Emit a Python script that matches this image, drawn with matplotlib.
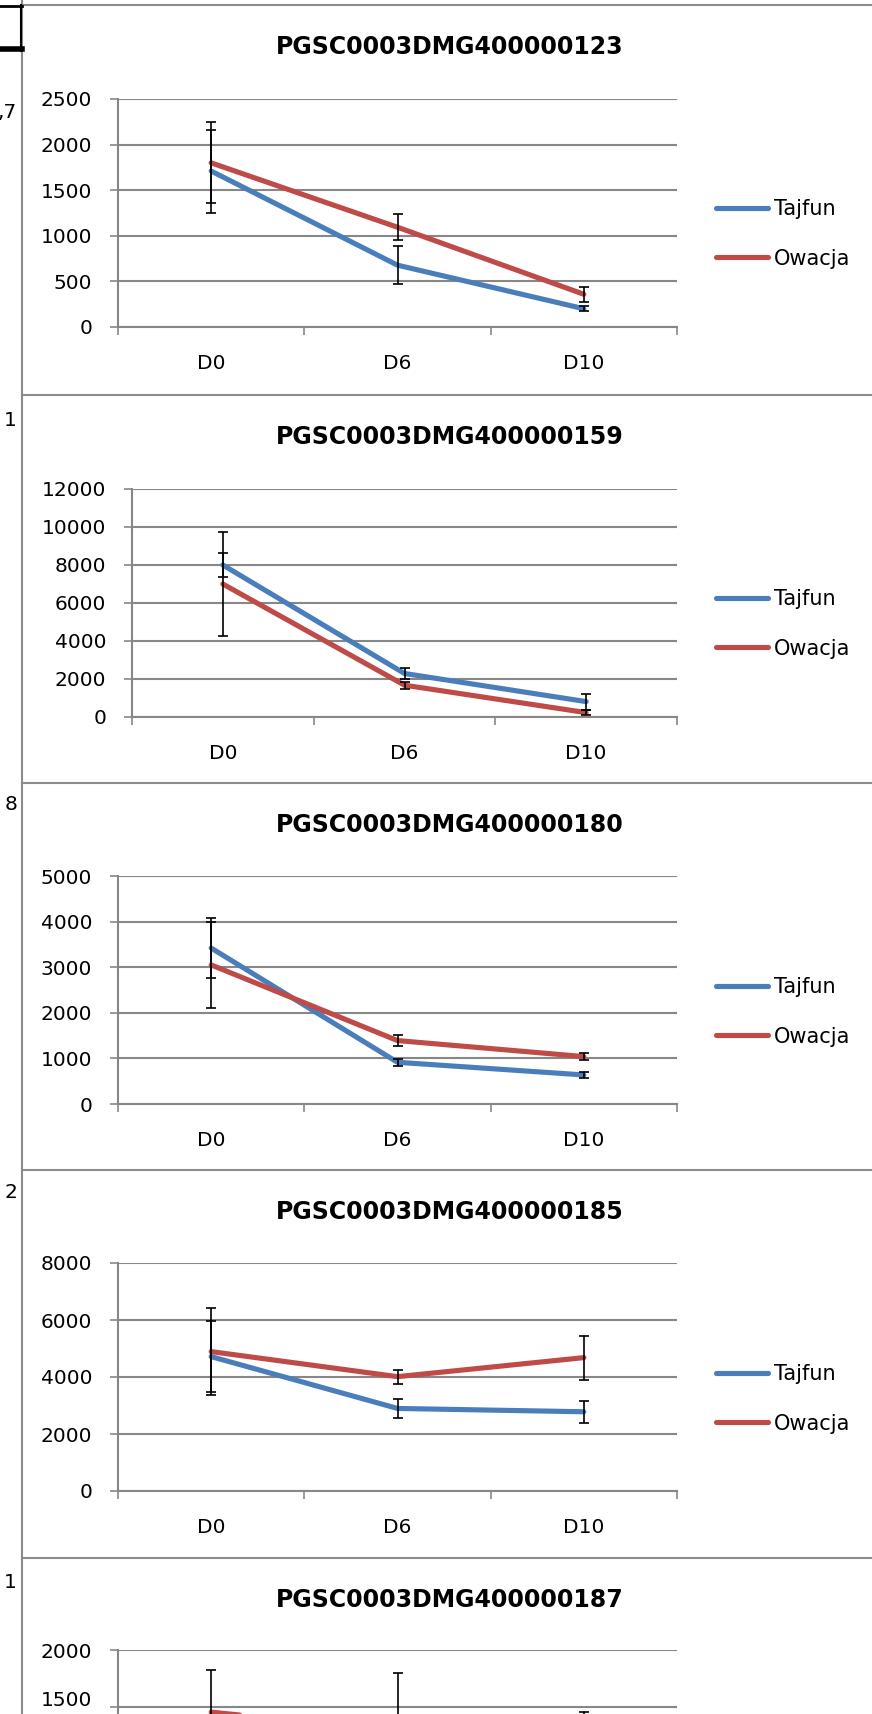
import matplotlib
matplotlib.use('Agg')
import matplotlib.pyplot as plt
from matplotlib.lines import Line2D

plt.rcParams['font.family'] = ['DejaVu Sans']

# ---------------- data ----------------
categories = ['D0', 'D6', 'D10']
series_names = ['Tajfun', 'Owacja']

titles = ['PGSC0003DMG400000123', 'PGSC0003DMG400000159', 'PGSC0003DMG400000180',
          'PGSC0003DMG400000185', 'PGSC0003DMG400000187']

tajfun_123 = [1710, 678, 200]
tajfun_123_err = [455, 210, 25]
owacja_123 = [1800, 1094, 359]
owacja_123_err = [445, 145, 85]

tajfun_159 = [8000, 2290, 810]
tajfun_159_err = [640, 265, 420]
owacja_159 = [7000, 1675, 230]
owacja_159_err = [2730, 180, 150]

tajfun_180 = [3420, 915, 637]
tajfun_180_err = [665, 80, 60]
owacja_180 = [3050, 1391, 1040]
owacja_180_err = [935, 130, 80]

tajfun_185 = [4715, 2897, 2780]
tajfun_185_err = [1250, 320, 380]
owacja_185 = [4891, 4012, 4680]
owacja_185_err = [1540, 250, 770]

tajfun_187 = [1100, 900, 800]
tajfun_187_err = [250, 300, 200]
owacja_187 = [1455, 1290, 1200]
owacja_187_err = [370, 510, 255]

yticks_123 = [0, 500, 1000, 1500, 2000, 2500]
yticks_159 = [0, 2000, 4000, 6000, 8000, 10000, 12000]
yticks_180 = [0, 1000, 2000, 3000, 4000, 5000]
yticks_185 = [0, 2000, 4000, 6000, 8000]
yticks_187 = [0, 500, 1000, 1500, 2000]

# visible parts of the spreadsheet cells cut off at the left edge
left_cell_texts = [',7', '1', '8', '2', '1']

charts = [
    (tajfun_123, tajfun_123_err, owacja_123, owacja_123_err, yticks_123),
    (tajfun_159, tajfun_159_err, owacja_159, owacja_159_err, yticks_159),
    (tajfun_180, tajfun_180_err, owacja_180, owacja_180_err, yticks_180),
    (tajfun_185, tajfun_185_err, owacja_185, owacja_185_err, yticks_185),
    (tajfun_187, tajfun_187_err, owacja_187, owacja_187_err, yticks_187),
]

# ---------------- layout (pixels) ----------------
W, H = 872, 1714
chart_tops = [5, 395, 783, 1170, 1558]
plot_tops = [99, 489, 876, 1263, 1650]
plot_h = 228
plot_lefts = [118, 132, 118, 118, 118]
plot_right = 677
title_x = 450
left_text_y = [112, 420, 805, 1192, 1583]

BLUE = '#4A7EBB'
RED = '#BE4B48'
GRID = '#878787'
TICK_LEN = 5.5
TICK_PAD = 13
LABEL_SIZE = 14.5

def fx(px):
    return px / W

def fy(py):
    return 1 - py / H

fig = plt.figure(figsize=(W / 100, H / 100), dpi=100)
fig.patch.set_facecolor('white')

for i, (taj, taj_e, owa, owa_e, yt) in enumerate(charts):
    top = chart_tops[i]
    left = plot_lefts[i]
    ptop = plot_tops[i]
    ax = fig.add_axes([fx(left), fy(ptop + plot_h),
                       (plot_right - left) / W, plot_h / H])
    x = list(range(len(categories)))
    ax.plot(x, taj, color=BLUE, lw=3.7, solid_capstyle='round',
            solid_joinstyle='round', zorder=3, label=series_names[0])
    ax.errorbar(x, taj, yerr=taj_e, fmt='none', ecolor='black', elinewidth=1.2,
                capsize=3.6, capthick=1.2, zorder=5)
    ax.plot(x, owa, color=RED, lw=3.7, solid_capstyle='round',
            solid_joinstyle='round', zorder=4, label=series_names[1])
    ax.errorbar(x, owa, yerr=owa_e, fmt='none', ecolor='black', elinewidth=1.2,
                capsize=3.6, capthick=1.2, zorder=5)

    ax.set_xlim(-0.5, len(categories) - 0.5)
    ax.set_ylim(yt[0], yt[-1])
    ax.set_yticks(yt)
    # labels below the bottom edge of the screenshot are not shown; a label that
    # sits right at the edge is drawn slightly raised so it stays inside
    ylabels = []
    edge_labels = []
    for v in yt:
        py = ptop + plot_h * (1 - (v - yt[0]) / (yt[-1] - yt[0]))
        if py < H - 12:
            ylabels.append(str(v))
        else:
            ylabels.append('')
            if py < H:
                edge_labels.append(v)
    ax.set_yticklabels(ylabels)
    for v in edge_labels:
        ax.annotate(str(v), xy=(0, v), xycoords=('axes fraction', 'data'),
                    xytext=(-(TICK_LEN + TICK_PAD), 4.5), textcoords='offset points',
                    ha='right', va='center', fontsize=LABEL_SIZE, color='black',
                    annotation_clip=False)
    ax.set_xticks(x)
    if ptop + plot_h + 40 < H:
        ax.set_xticklabels(categories)
    else:
        ax.set_xticklabels([''] * len(categories))
    ax.set_xticks([v - 0.5 for v in range(len(categories) + 1)], minor=True)
    ax.yaxis.grid(True, color=GRID, lw=1.5, zorder=0)
    ax.set_axisbelow(True)
    for s in ['top', 'right']:
        ax.spines[s].set_visible(False)
    for s in ['left', 'bottom']:
        ax.spines[s].set_color(GRID)
        ax.spines[s].set_linewidth(1.5)
    ax.tick_params(axis='y', length=TICK_LEN, width=1.2, color=GRID, pad=TICK_PAD,
                   labelsize=LABEL_SIZE, labelcolor='black')
    ax.tick_params(axis='x', which='major', length=0, pad=19.5, labelsize=LABEL_SIZE,
                   labelcolor='black')
    ax.tick_params(axis='x', which='minor', length=6, width=1.2, color=GRID)
    ax.set_facecolor('none')

    if top + 260 < H:
        handles = [Line2D([], [], color=BLUE, lw=3.7, solid_capstyle='round'),
                   Line2D([], [], color=RED, lw=3.7, solid_capstyle='round')]
        ax.legend(handles, series_names, loc='center left',
                  bbox_to_anchor=(fx(716), fy(top + 229)),
                  bbox_transform=fig.transFigure,
                  frameon=False, fontsize=15, handlelength=2.5, handletextpad=0.3,
                  labelspacing=1.4, borderpad=0, borderaxespad=0)

    fig.text(fx(title_x), fy(top + 42), titles[i], ha='center', va='center',
             fontsize=17, fontweight='bold')
    fig.text(fx(17), fy(left_text_y[i]), left_cell_texts[i], ha='right',
             va='center', fontsize=LABEL_SIZE)

    # chart border (top)
    fig.add_artist(Line2D([fx(22), fx(W)], [fy(top), fy(top)], color='#8c8c8c',
                          lw=1.5, transform=fig.transFigure))

# left chart border
fig.add_artist(Line2D([fx(22), fx(22)], [fy(0), fy(H)], color='#8c8c8c', lw=1.5,
                      transform=fig.transFigure))
# spreadsheet cell box at top-left
fig.add_artist(Line2D([fx(0), fx(22)], [fy(6), fy(6)], color='black', lw=2,
                      transform=fig.transFigure))
fig.add_artist(Line2D([fx(0), fx(22)], [fy(49), fy(49)], color='black', lw=4,
                      transform=fig.transFigure))
fig.add_artist(Line2D([fx(21), fx(21)], [fy(5), fy(51)], color='black', lw=1.5,
                      transform=fig.transFigure))

fig.savefig('out.png', dpi=100, facecolor='white')
